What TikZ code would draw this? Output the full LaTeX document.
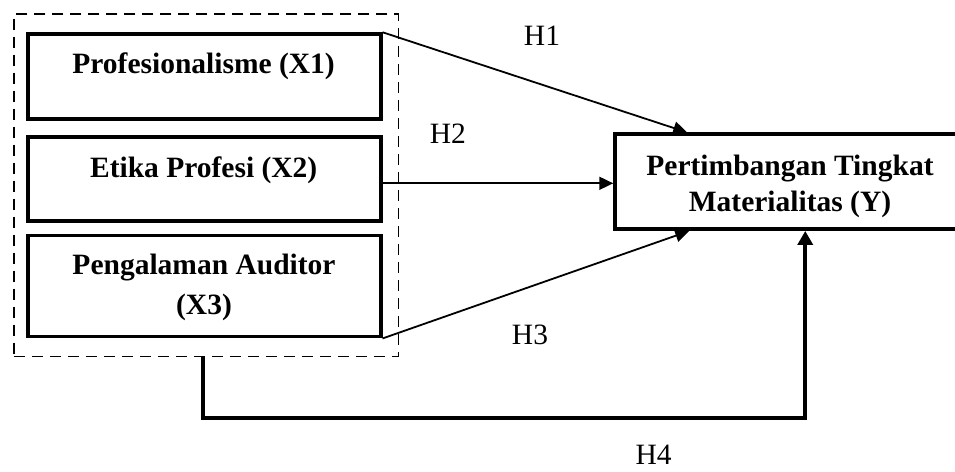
\documentclass[tikz,border=0pt]{standalone}
\usepackage{fontspec}
\setmainfont{Liberation Serif}
\usetikzlibrary{arrows.meta,calc}
\begin{document}
\begin{tikzpicture}[x=1pt,y=-1pt,
  grpbox/.style={draw, dash pattern=on 11pt off 7pt, line width=1.6pt, minimum width=384.3pt, minimum height=342.7pt, inner sep=0pt},
  varbox/.style={draw, line width=3.5pt, minimum width=353pt, inner sep=0pt},
  btext/.style={font=\fontsize{29.5}{40}\selectfont\bfseries, align=center, inner sep=0pt},
  hlabel/.style={font=\fontsize{29.5}{36}\selectfont, anchor=base, inner sep=0pt, text depth=0pt},
  thinarrow/.style={line width=1.8pt, -{Triangle[length=14pt,width=13pt]}},
  thickarrow/.style={line width=4pt, -{Triangle[length=14pt,width=15pt]}}]
\useasboundingbox (0,0) rectangle (955,471);
\node[grpbox] (grp) at (206.2,185.3) {};
\node[varbox, minimum height=85pt] (b1) at (204.3,76.5) {};
\node[varbox, minimum height=84pt] (b2) at (204.3,179) {};
\node[varbox, minimum height=101pt] (b3) at (204.3,286.2) {};
\node[varbox, minimum width=350pt, minimum height=95pt] (y) at (790,181.7) {};
\node[btext, anchor=base] (t1) at (203.6,73) {Profesionalisme (X1)};
\node[btext, anchor=base] (t2) at (203.7,177) {Etika Profesi (X2)};
\node[btext] (t3) at (204,287) {Pengalaman Auditor\\(X3)};
\node[btext, font=\fontsize{29.5}{36}\selectfont\bfseries] (ty) at (790,186) {Pertimbangan Tingkat\\Materialitas (Y)};
\node[hlabel] (h1) at (542,45) {H1};
\node[hlabel] (h2) at (447.8,143) {H2};
\node[hlabel] (h3) at (530,344) {H3};
\node[hlabel] (h4) at (653.6,464) {H4};
\draw[thinarrow] (b1.north east) -- ($(y.north west)+(74,0)$);
\coordinate (h2s) at ($(b2.east)+(0,4.3)$);
\draw[thinarrow] (h2s) -- (h2s -| y.west);
\draw[thinarrow] (b3.south east) -- ($(y.south west)+(76,0)$);
\draw[thickarrow] ($(grp.south)+(-3,0)$) -- ++(0,61) -| ($(y.south west)+(192,0)$);
\end{tikzpicture}
\end{document}
